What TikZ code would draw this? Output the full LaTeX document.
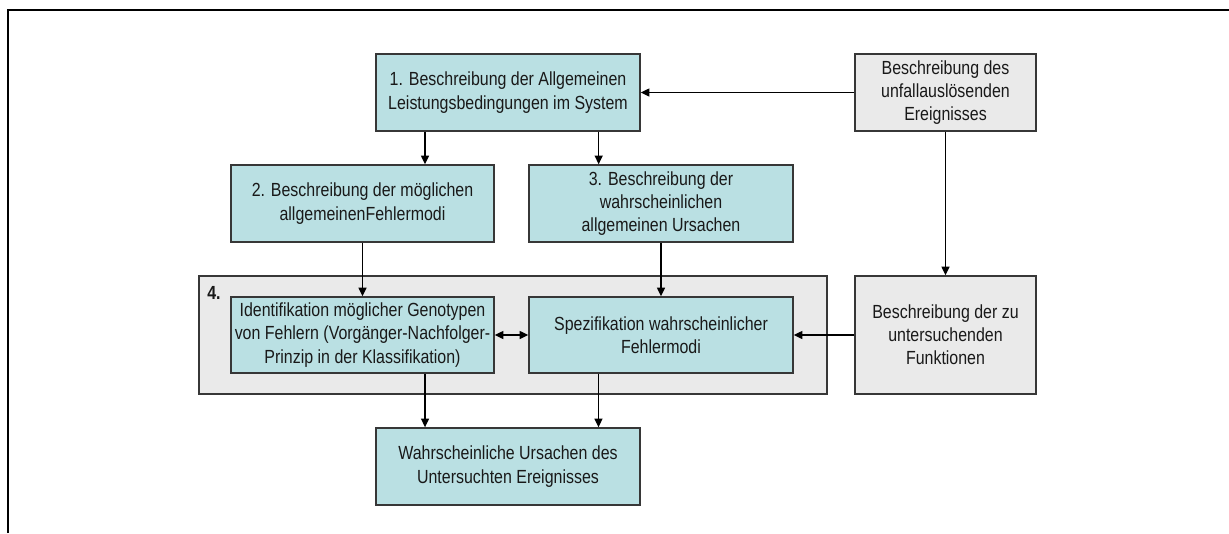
\documentclass[tikz,border=0pt]{standalone}
\usepackage{fontspec}
\setmainfont[FakeStretch=0.84]{Liberation Sans}
\usetikzlibrary{arrows.meta}
\definecolor{teal1}{RGB}{186,224,227}
\definecolor{gray1}{RGB}{234,234,234}
\definecolor{edge1}{RGB}{55,55,55}
\definecolor{txt1}{RGB}{25,25,25}
\tikzset{
  box/.style={draw=edge1, line width=1.1pt, align=center, inner sep=0pt,
    text=txt1, font=\fontsize{14.25pt}{17.4pt}\selectfont},
  tealbox/.style={box, fill=teal1},
  graybox/.style={box, fill=gray1},
  arr/.style={draw=black, line width=1pt, -{Triangle[length=6.5pt,width=6pt]}},
  dblarr/.style={draw=black, line width=1pt, {Triangle[length=6.5pt,width=6pt]}-{Triangle[length=6.5pt,width=6pt]}},
}
\begin{document}
\begin{tikzpicture}[x=0.75pt,y=-0.75pt]
\useasboundingbox (0,0) rectangle (1229,533);
% frame
\draw[line width=1.5pt, black] (7.5,533) -- (7.5,9.5) -- (1229,9.5);

\node[tealbox, minimum width=264*0.75pt, minimum height=77*0.75pt] (b1) at (508,92.5)
  {1. Beschreibung der Allgemeinen\\Leistungsbedingungen im System};
\node[graybox, minimum width=181*0.75pt, minimum height=77*0.75pt] (ev) at (945.5,92.5)
  {Beschreibung des\\unfallauslösenden\\Ereignisses};
\node[tealbox, minimum width=263*0.75pt, minimum height=77*0.75pt] (b2) at (362.5,203.5)
  {2. Beschreibung der möglichen\\allgemeinenFehlermodi};
\node[tealbox, minimum width=264*0.75pt, minimum height=77*0.75pt] (b3) at (661,203.5)
  {3. Beschreibung der\\wahrscheinlichen\\allgemeinen Ursachen};
\node[graybox, minimum width=628*0.75pt, minimum height=118*0.75pt] (grp) at (513,335) {};
\node[anchor=west, text=txt1, font=\fontsize{14.25pt}{17.4pt}\selectfont\bfseries, inner sep=0pt] (g4) at (207,293) {4.};
\node[tealbox, minimum width=263*0.75pt, minimum height=76*0.75pt] (id) at (362.5,335)
  {Identifikation möglicher Genotypen\\von Fehlern (Vorgänger-Nachfolger-\\Prinzip in der Klassifikation)};
\node[tealbox, minimum width=264*0.75pt, minimum height=76*0.75pt] (sp) at (661,335)
  {Spezifikation wahrscheinlicher\\Fehlermodi};
\node[graybox, minimum width=181*0.75pt, minimum height=118*0.75pt] (fn) at (945.5,335)
  {Beschreibung der zu\\untersuchenden\\Funktionen};
\node[tealbox, minimum width=264*0.75pt, minimum height=77*0.75pt] (res) at (508,466.5)
  {Wahrscheinliche Ursachen des\\Untersuchten Ereignisses};

% connectors
\coordinate (c1) at ([xshift=-62.25pt]b1.south);
\coordinate (c2) at ([xshift=68pt]b1.south);
\coordinate (c3) at ([xshift=46.9pt]id.south);
\coordinate (c4) at ([xshift=-46.9pt]sp.south);
\draw[arr] (c1) -- (c1 |- b2.north);
\draw[arr] (c2) -- (c2 |- b3.north);
\draw[arr] (ev.west) -- (b1.east);
\draw[arr] (ev.south) -- (fn.north);
\draw[arr] (b2.south) -- (id.north);
\draw[arr] (b3.south) -- (sp.north);
\draw[dblarr] (id.east) -- (sp.west);
\draw[arr] (fn.west) -- (sp.east);
\draw[arr] (c3) -- (c3 |- res.north);
\draw[arr] (c4) -- (c4 |- res.north);
\end{tikzpicture}
\end{document}
